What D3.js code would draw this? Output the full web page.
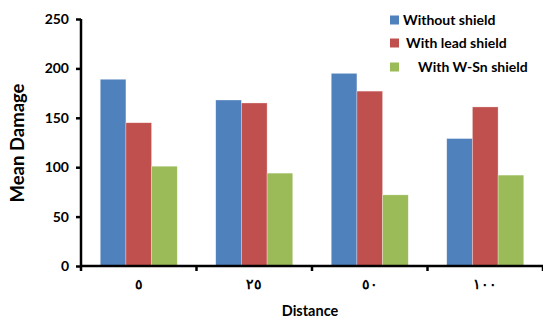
<!DOCTYPE html>
<html><head><meta charset="utf-8">
<script src="https://cdn.jsdelivr.net/npm/d3@7"></script>
<style>body{margin:0;background:#fff}svg{display:block}text{font-family:Lato,"Open Sans",sans-serif;font-weight:bold;fill:#000}</style>
</head><body><svg id="c" width="543" height="320"></svg>
<script>
const categories = ["٥", "٢٥", "٥٠", "١٠٠"];
const seriesNames = ["Without shield", "With lead shield", "With W-Sn shield"];
const withoutShield = [189, 168, 195, 129];
const leadShield = [145, 165, 177, 161];
const wsnShield = [101, 94, 72, 92];
const yTicks = [0, 50, 100, 150, 200, 250];
const colors = ["#4F81BD", "#C0504D", "#9BBB59"];

const series = [withoutShield, leadShield, wsnShield];
const svg = d3.select("#c");
const x0 = d3.scaleBand().domain(categories).range([81, 543]).paddingInner(1/3).paddingOuter(1/6);
const x1 = d3.scaleBand().domain(d3.range(3)).range([0, x0.bandwidth()]);
const y = d3.scaleLinear().domain([0, 250]).range([266, 19]);

categories.forEach((c, i) => {
  series.forEach((s, j) => {
    svg.append("rect")
      .attr("x", x0(c) + x1(j)).attr("width", x1.bandwidth())
      .attr("y", y(s[i])).attr("height", y(0) - y(s[i]))
      .attr("fill", colors[j]).attr("stroke", "rgba(255,255,255,0.5)").attr("stroke-width", 0.6);
  });
});

// y axis
const ya = svg.append("g").attr("transform", "translate(81,0)")
  .call(d3.axisLeft(y).tickValues(yTicks).tickSize(5).tickPadding(7));
ya.select(".domain").attr("stroke", "#000").attr("stroke-width", 2.5).attr("d", "M0,19V266");
ya.selectAll(".tick line").attr("stroke", "#000").attr("stroke-width", 2.5);
ya.selectAll("text").style("font-size", "14px").style("font-family", "Lato").style("font-weight", "bold");

// x axis
const xa = svg.append("g").attr("transform", "translate(0,266)");
xa.append("line").attr("x1", 80).attr("x2", 543).attr("stroke", "#000").attr("stroke-width", 2.5);
const step = x0.step();
d3.range(5).forEach(k => {
  const px = 81 + k * step;
  xa.append("line").attr("x1", px).attr("x2", px).attr("y1", 0).attr("y2", 5).attr("stroke", "#000").attr("stroke-width", 2.5);
});
categories.forEach(c => {
  xa.append("text").attr("x", x0(c) + x0.bandwidth() / 2).attr("y", 23)
    .attr("text-anchor", "middle").style("font-size", "14px").text(c);
});

svg.append("text").attr("x", 310).attr("y", 316).attr("text-anchor", "middle").style("font-size", "14.5px").text("Distance");
svg.append("text").attr("transform", "translate(24,143) rotate(-90)").attr("text-anchor", "middle").style("font-size", "18.5px").text("Mean Damage");

// legend
const lx = [403, 406, 418];
const ly = [20, 43, 67];
seriesNames.forEach((n, j) => {
  svg.append("rect").attr("x", 390).attr("y", ly[j] - 4.5).attr("width", 9).attr("height", 9).attr("fill", colors[j]);
  svg.append("text").attr("x", lx[j]).attr("y", ly[j] + 5).style("font-size", "14px").text(n);
});
</script></body></html>
